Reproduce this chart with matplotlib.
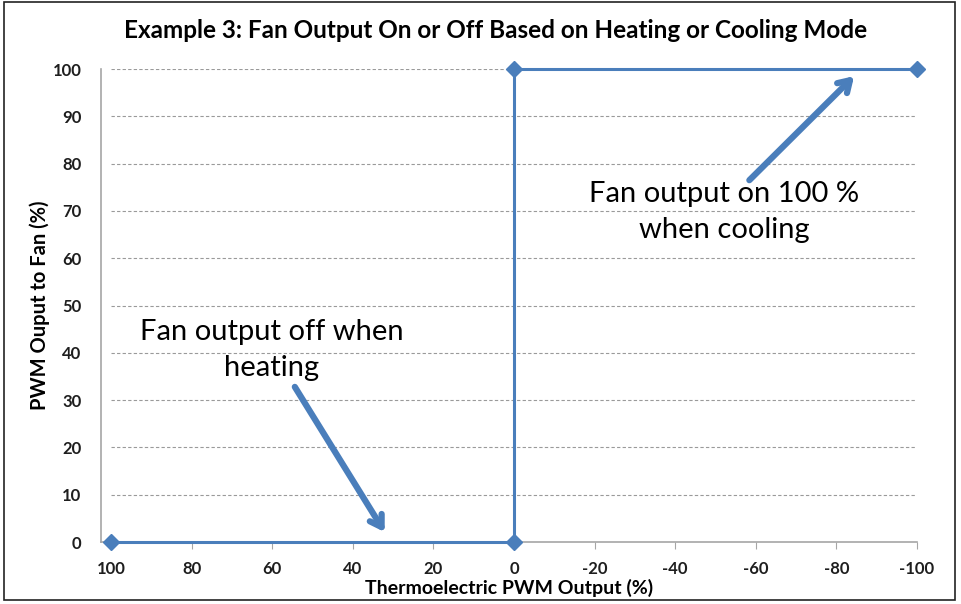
import matplotlib.pyplot as plt
from matplotlib.patches import Rectangle

# thermoelectric PWM output (%) vs fan PWM output (%)
pwm_output = [100, 0, 0, -100]
fan_output = [0, 0, 100, 100]
x_ticks = [100, 80, 60, 40, 20, 0, -20, -40, -60, -80, -100]
x_tick_labels = ["100", "80", "60", "40", "20", "0", "-20", "-40", "-60", "-80", "-100"]
y_ticks = [0, 10, 20, 30, 40, 50, 60, 70, 80, 90, 100]

blue = "#4a7ebb"
plt.rcParams['font.family'] = ['Lato', 'DejaVu Sans']

fig = plt.figure(figsize=(9.61, 6.04), dpi=100)
fig.patches.append(Rectangle((0.004, 0.006), 0.99, 0.99, transform=fig.transFigure,
                             fill=False, edgecolor="#222222", linewidth=1.2))

ax = fig.add_axes([0.1051, 0.1026, 0.8491, 0.7831])
ax.set_xlim(102.5, -100)
ax.set_ylim(0, 100)

# dashed horizontal gridlines between the first and last category
ax.hlines(y_ticks[1:], x_ticks[0], x_ticks[-1], colors="#9a9a9a",
          linestyles=(0, (3, 2)), linewidth=0.8, zorder=1)

ax.plot(pwm_output, fan_output, color=blue, linewidth=2.2, marker="D",
        markersize=8, zorder=3, clip_on=False)

for s in ["top", "right"]:
    ax.spines[s].set_visible(False)
for s in ["left", "bottom"]:
    ax.spines[s].set_color("#a6a6a6")
    ax.spines[s].set_linewidth(1.2)

ax.set_xticks(x_ticks)
ax.set_xticklabels(x_tick_labels)
ax.set_yticks(y_ticks)
ax.tick_params(axis="x", direction="out", length=5, color="#a6a6a6", pad=9,
               labelsize=12)
ax.tick_params(axis="y", length=0, pad=14, labelsize=12)
for lab in ax.get_xticklabels() + ax.get_yticklabels():
    lab.set_fontweight("bold")
    lab.set_color("#1e1e1e")

ax.set_xlabel("Thermoelectric PWM Output (%)", fontsize=14, fontweight="bold",
              labelpad=1)
ax.set_ylabel("PWM Ouput to Fan (%)", fontsize=14.5, fontweight="bold",
              labelpad=2)
fig.suptitle("Example 3: Fan Output On or Off Based on Heating or Cooling Mode",
             x=0.516, y=0.968, fontsize=17.5, fontweight="bold")

arrow = dict(arrowstyle="->,head_length=0.8,head_width=0.5", color=blue,
             linewidth=4.5, shrinkA=0, shrinkB=0)
ax.annotate("", xy=(32.1, 2.1), xytext=(54.4, 32.8), arrowprops=arrow, zorder=4)
ax.annotate("", xy=(-84.4, 98.5), xytext=(-58.4, 76.5), arrowprops=arrow, zorder=4)

ax.text(60.1, 40.6, "Fan output off when\nheating", ha="center", va="center",
        fontsize=21, linespacing=1.5)
ax.text(-52.2, 69.8, "Fan output on 100 %\nwhen cooling", ha="center", va="center",
        fontsize=21, linespacing=1.5)

fig.savefig("out.png", dpi=100)
